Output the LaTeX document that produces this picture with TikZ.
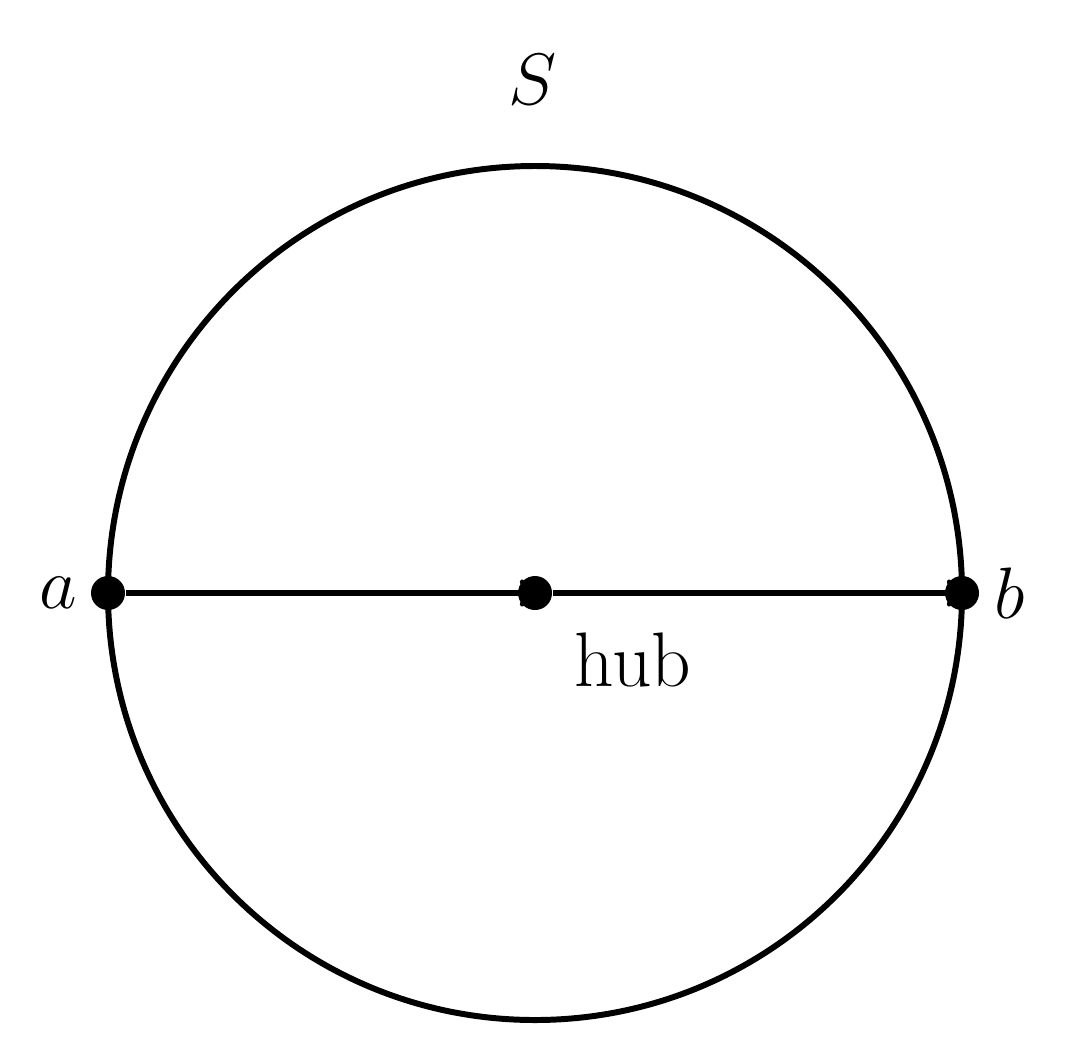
\documentclass[tikz,border=0pt]{standalone}
\begin{document}
\begin{tikzpicture}[x=1cm,y=1cm,
  dot/.style={circle,fill=black,inner sep=0pt,minimum size=0.34cm},
  lab/.style={font=\fontsize{22}{26}\selectfont},
  edge/.style={line width=1.7pt,->}]
\useasboundingbox (0,0) rectangle (10.81,10.44);
\draw[line width=1.7pt] (5.35,4.51) circle (4.27);
\node[dot] (a) at (1.08,4.51) {};
\node[dot] (h) at (5.35,4.51) {};
\node[dot] (b) at (9.62,4.51) {};
\draw[edge] (a) -- (h.center);
\draw[edge] (h) -- (b.center);
\node[lab] (la) at (0.58,4.51) {$a$};
\node[lab] (lb) at (10.1,4.51) {$b$};
\node[lab] (ls) at (5.33,9.64) {$S$};
\node[lab] (lh) at (6.33,3.84) {hub};
\end{tikzpicture}
\end{document}
